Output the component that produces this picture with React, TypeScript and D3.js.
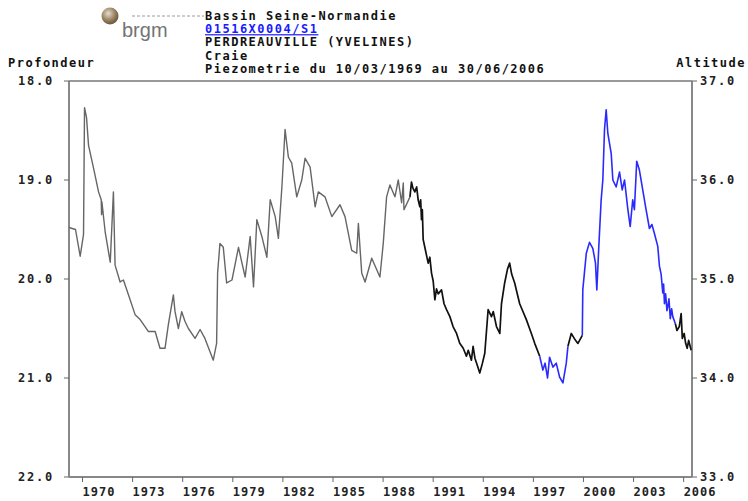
import React from "react";
import * as d3 from "d3";

// [decimal year, depth (m)]
const manualSeries: [number, number][] = [
  [1969.19, 19.48], [1969.58, 19.5], [1969.86, 19.77], [1970.06, 19.55], [1970.12, 18.27],
  [1970.24, 18.37], [1970.36, 18.65], [1970.66, 18.88], [1970.96, 19.12], [1971.12, 19.2],
  [1971.14, 19.35], [1971.16, 19.22], [1971.36, 19.53], [1971.66, 19.83], [1971.85, 19.12],
  [1971.95, 19.86], [1972.25, 20.03], [1972.45, 20.01], [1972.75, 20.16], [1973.15, 20.36],
  [1973.45, 20.41], [1973.94, 20.53], [1974.35, 20.53], [1974.64, 20.7], [1974.94, 20.7],
  [1975.14, 20.46], [1975.44, 20.16], [1975.54, 20.33], [1975.74, 20.5], [1975.94, 20.33],
  [1976.14, 20.43], [1976.34, 20.5], [1976.74, 20.6], [1977.04, 20.51], [1977.33, 20.6],
  [1977.83, 20.82], [1978.03, 20.65], [1978.09, 19.94], [1978.23, 19.64], [1978.43, 19.68],
  [1978.63, 20.04], [1978.95, 20.01], [1979.34, 19.68], [1979.55, 19.84], [1979.74, 19.98],
  [1980.04, 19.57], [1980.24, 20.08], [1980.44, 19.4], [1980.74, 19.57], [1981.04, 19.78],
  [1981.24, 19.2], [1981.54, 19.37], [1981.73, 19.59], [1981.94, 19.07], [1982.13, 18.49],
  [1982.33, 18.77], [1982.53, 18.83], [1982.83, 19.17], [1983.13, 19.0], [1983.33, 18.78],
  [1983.63, 18.87], [1983.93, 19.27], [1984.12, 19.12], [1984.52, 19.17], [1984.93, 19.37],
  [1985.42, 19.25], [1985.72, 19.37], [1986.12, 19.71], [1986.42, 19.74], [1986.52, 19.44],
  [1986.72, 19.94], [1986.92, 20.03], [1987.32, 19.79], [1987.81, 19.98], [1988.01, 19.64],
  [1988.21, 19.17], [1988.41, 19.05], [1988.71, 19.17], [1988.91, 19.0], [1989.11, 19.23],
  [1989.21, 19.03], [1989.25, 19.3], [1989.61, 19.17],
];

const recorderSeries1: [number, number][] = [
  [1989.61, 19.17], [1989.7, 19.02], [1989.78, 19.08], [1989.9, 19.12], [1990.01, 19.07],
  [1990.1, 19.2], [1990.2, 19.27], [1990.25, 19.2], [1990.3, 19.4], [1990.35, 19.3],
  [1990.4, 19.6], [1990.55, 19.72], [1990.7, 19.84], [1990.8, 19.78], [1990.9, 19.94],
  [1991.0, 20.02], [1991.1, 20.21], [1991.2, 20.1], [1991.3, 20.15], [1991.5, 20.11],
  [1991.65, 20.25], [1991.8, 20.31], [1992.0, 20.38], [1992.19, 20.48], [1992.4, 20.55],
  [1992.59, 20.65], [1992.8, 20.7], [1992.99, 20.78], [1993.1, 20.72], [1993.29, 20.82],
  [1993.39, 20.68], [1993.5, 20.8], [1993.6, 20.85], [1993.79, 20.95], [1993.95, 20.85],
  [1994.09, 20.75], [1994.29, 20.31], [1994.49, 20.38], [1994.6, 20.33], [1994.79, 20.48],
  [1994.99, 20.55], [1995.09, 20.25], [1995.28, 20.04], [1995.45, 19.9], [1995.58, 19.84],
  [1995.7, 19.95], [1995.88, 20.04], [1996.18, 20.25], [1996.58, 20.41], [1996.88, 20.55],
  [1997.08, 20.65], [1997.38, 20.78],
];

const validatedSeries1: [number, number][] = [
  [1997.38, 20.78], [1997.57, 20.92], [1997.7, 20.85], [1997.85, 21.0], [1997.97, 20.79],
  [1998.17, 20.89], [1998.37, 20.85], [1998.57, 20.99], [1998.77, 21.05], [1998.97, 20.85],
  [1999.07, 20.68],
];

const recorderSeries2: [number, number][] = [
  [1999.07, 20.68], [1999.27, 20.55], [1999.45, 20.6], [1999.57, 20.63], [1999.67, 20.65],
  [1999.93, 20.57],
];

const validatedSeries2: [number, number][] = [
  [1999.93, 20.57], [1999.96, 20.11], [2000.17, 19.74], [2000.36, 19.63], [2000.56, 19.69],
  [2000.72, 19.84], [2000.8, 20.11], [2000.92, 19.67], [2001.06, 19.2], [2001.16, 19.0],
  [2001.26, 18.49], [2001.36, 18.29], [2001.46, 18.53], [2001.66, 18.73], [2001.76, 19.0],
  [2001.96, 19.07], [2002.16, 18.92], [2002.32, 19.1], [2002.46, 19.0], [2002.66, 19.3],
  [2002.8, 19.47], [2002.95, 19.2], [2003.05, 19.3], [2003.19, 18.81], [2003.35, 18.9],
  [2003.55, 19.1], [2003.75, 19.3], [2003.95, 19.49], [2004.1, 19.45], [2004.25, 19.54],
  [2004.45, 19.67], [2004.55, 19.87], [2004.65, 19.95], [2004.75, 20.14], [2004.8, 20.05],
  [2004.85, 20.25], [2004.92, 20.15], [2005.0, 20.32], [2005.05, 20.28], [2005.12, 20.2],
  [2005.2, 20.4], [2005.28, 20.3], [2005.35, 20.38], [2005.5, 20.45],
];

const recorderSeries3: [number, number][] = [
  [2005.5, 20.45], [2005.6, 20.52], [2005.74, 20.48], [2005.85, 20.35], [2005.92, 20.6],
  [2006.03, 20.55], [2006.12, 20.65], [2006.21, 20.7], [2006.3, 20.62], [2006.45, 20.72],
];

const depthTicks = [18, 19, 20, 21, 22];
const altitudeTicks = [37, 36, 35, 34, 33];
const yearTicks = [1970, 1973, 1976, 1979, 1982, 1985, 1988, 1991, 1994, 1997, 2000, 2003, 2006];

const titleLines = [
  "Bassin Seine-Normandie",
  "01516X0004/S1",
  "PERDREAUVILLE (YVELINES)",
  "Craie",
  "Piezometrie du 10/03/1969 au 30/06/2006",
];

const W = 748;
const H = 501;
const left = 69;
const right = 692;
const top = 81;
const bottom = 477;

const mono = "'DejaVu Sans Mono', monospace";

export default function App() {
  const x = d3.scaleLinear().domain([1969.19, 2006.5]).range([left, right]);
  const yL = d3.scaleLinear().domain([18, 22]).range([top, bottom]);
  const yR = d3.scaleLinear().domain([37, 33]).range([top, bottom]);
  const line = d3
    .line<[number, number]>()
    .x((d) => x(d[0]))
    .y((d) => yL(d[1]));

  const segs: { data: [number, number][]; color: string; w: number }[] = [
    { data: manualSeries, color: "#666666", w: 1.4 },
    { data: recorderSeries1, color: "#111111", w: 1.7 },
    { data: validatedSeries1, color: "#2a2aff", w: 1.6 },
    { data: recorderSeries2, color: "#111111", w: 1.7 },
    { data: validatedSeries2, color: "#2a2aff", w: 1.6 },
    { data: recorderSeries3, color: "#111111", w: 1.7 },
  ];

  const textStyle = {
    fontFamily: mono,
    fontWeight: "bold" as const,
    fontSize: 12,
    letterSpacing: 1.5,
  };

  return (
    <div style={{ position: "absolute", left: 0, top: 0 }}>
      <svg width={W} height={H} style={{ display: "block", background: "#fff" }}>
        {/* logo */}
        <defs>
          <radialGradient id="lg" cx="40%" cy="35%" r="65%">
            <stop offset="0%" stopColor="#e6dccb" />
            <stop offset="60%" stopColor="#9a8466" />
            <stop offset="100%" stopColor="#6b5638" />
          </radialGradient>
        </defs>
        <circle cx={110} cy={16} r={8.5} fill="url(#lg)" />
        <text x={122} y={37} fontFamily="'Liberation Sans', Arial, sans-serif" fontSize={20} fill="#747474">
          brgm
        </text>
        <line x1={132} y1={16} x2={204} y2={16} stroke="#9a9a9a" strokeWidth={1} strokeDasharray="3,2" />

        {/* title */}
        {titleLines.map((t, i) => (
          <text
            key={i}
            x={205}
            y={20 + i * 13.2}
            {...textStyle}
            fill={i === 1 ? "#1a1aff" : "#111"}
            textDecoration={i === 1 ? "underline" : undefined}
          >
            {t}
          </text>
        ))}

        <text x={8} y={67} {...textStyle} fill="#111">
          Profondeur
        </text>
        <text x={746} y={67} {...textStyle} textAnchor="end" fill="#111">
          Altitude
        </text>

        {/* frame */}
        <line x1={left} y1={top} x2={right} y2={top} stroke="#999" strokeWidth={2} />
        <line x1={left} y1={top} x2={left} y2={bottom} stroke="#888" strokeWidth={2} />
        <line x1={right} y1={top} x2={right} y2={bottom} stroke="#888" strokeWidth={2} />
        <line x1={left} y1={bottom} x2={right} y2={bottom} stroke="#888" strokeWidth={2} />

        {/* left ticks */}
        {depthTicks.map((t) => (
          <g key={"l" + t}>
            <line x1={left - 5} x2={left} y1={yL(t)} y2={yL(t)} stroke="#666" strokeWidth={1} />
            <text x={54} y={yL(t) + 4} textAnchor="end" {...textStyle} letterSpacing={1.8} fill="#222">
              {t.toFixed(1)}
            </text>
          </g>
        ))}
        {altitudeTicks.map((t) => (
          <g key={"r" + t}>
            <line x1={right} x2={right + 5} y1={yR(t)} y2={yR(t)} stroke="#666" strokeWidth={1} />
            <text x={700} y={yR(t) + 4} {...textStyle} letterSpacing={1.8} fill="#222">
              {t.toFixed(1)}
            </text>
          </g>
        ))}
        {yearTicks.map((t) => (
          <g key={"x" + t}>
            <line x1={x(t)} x2={x(t)} y1={bottom} y2={bottom + 5} stroke="#666" strokeWidth={1} />
            <text x={x(t)} y={496} {...textStyle} letterSpacing={1} fill="#222">
              {t}
            </text>
          </g>
        ))}

        {/* series */}
        {segs.map((s, i) => (
          <path
            key={i}
            d={line(s.data) || ""}
            fill="none"
            stroke={s.color}
            strokeWidth={s.w}
            strokeLinejoin="round"
          />
        ))}
      </svg>
    </div>
  );
}
